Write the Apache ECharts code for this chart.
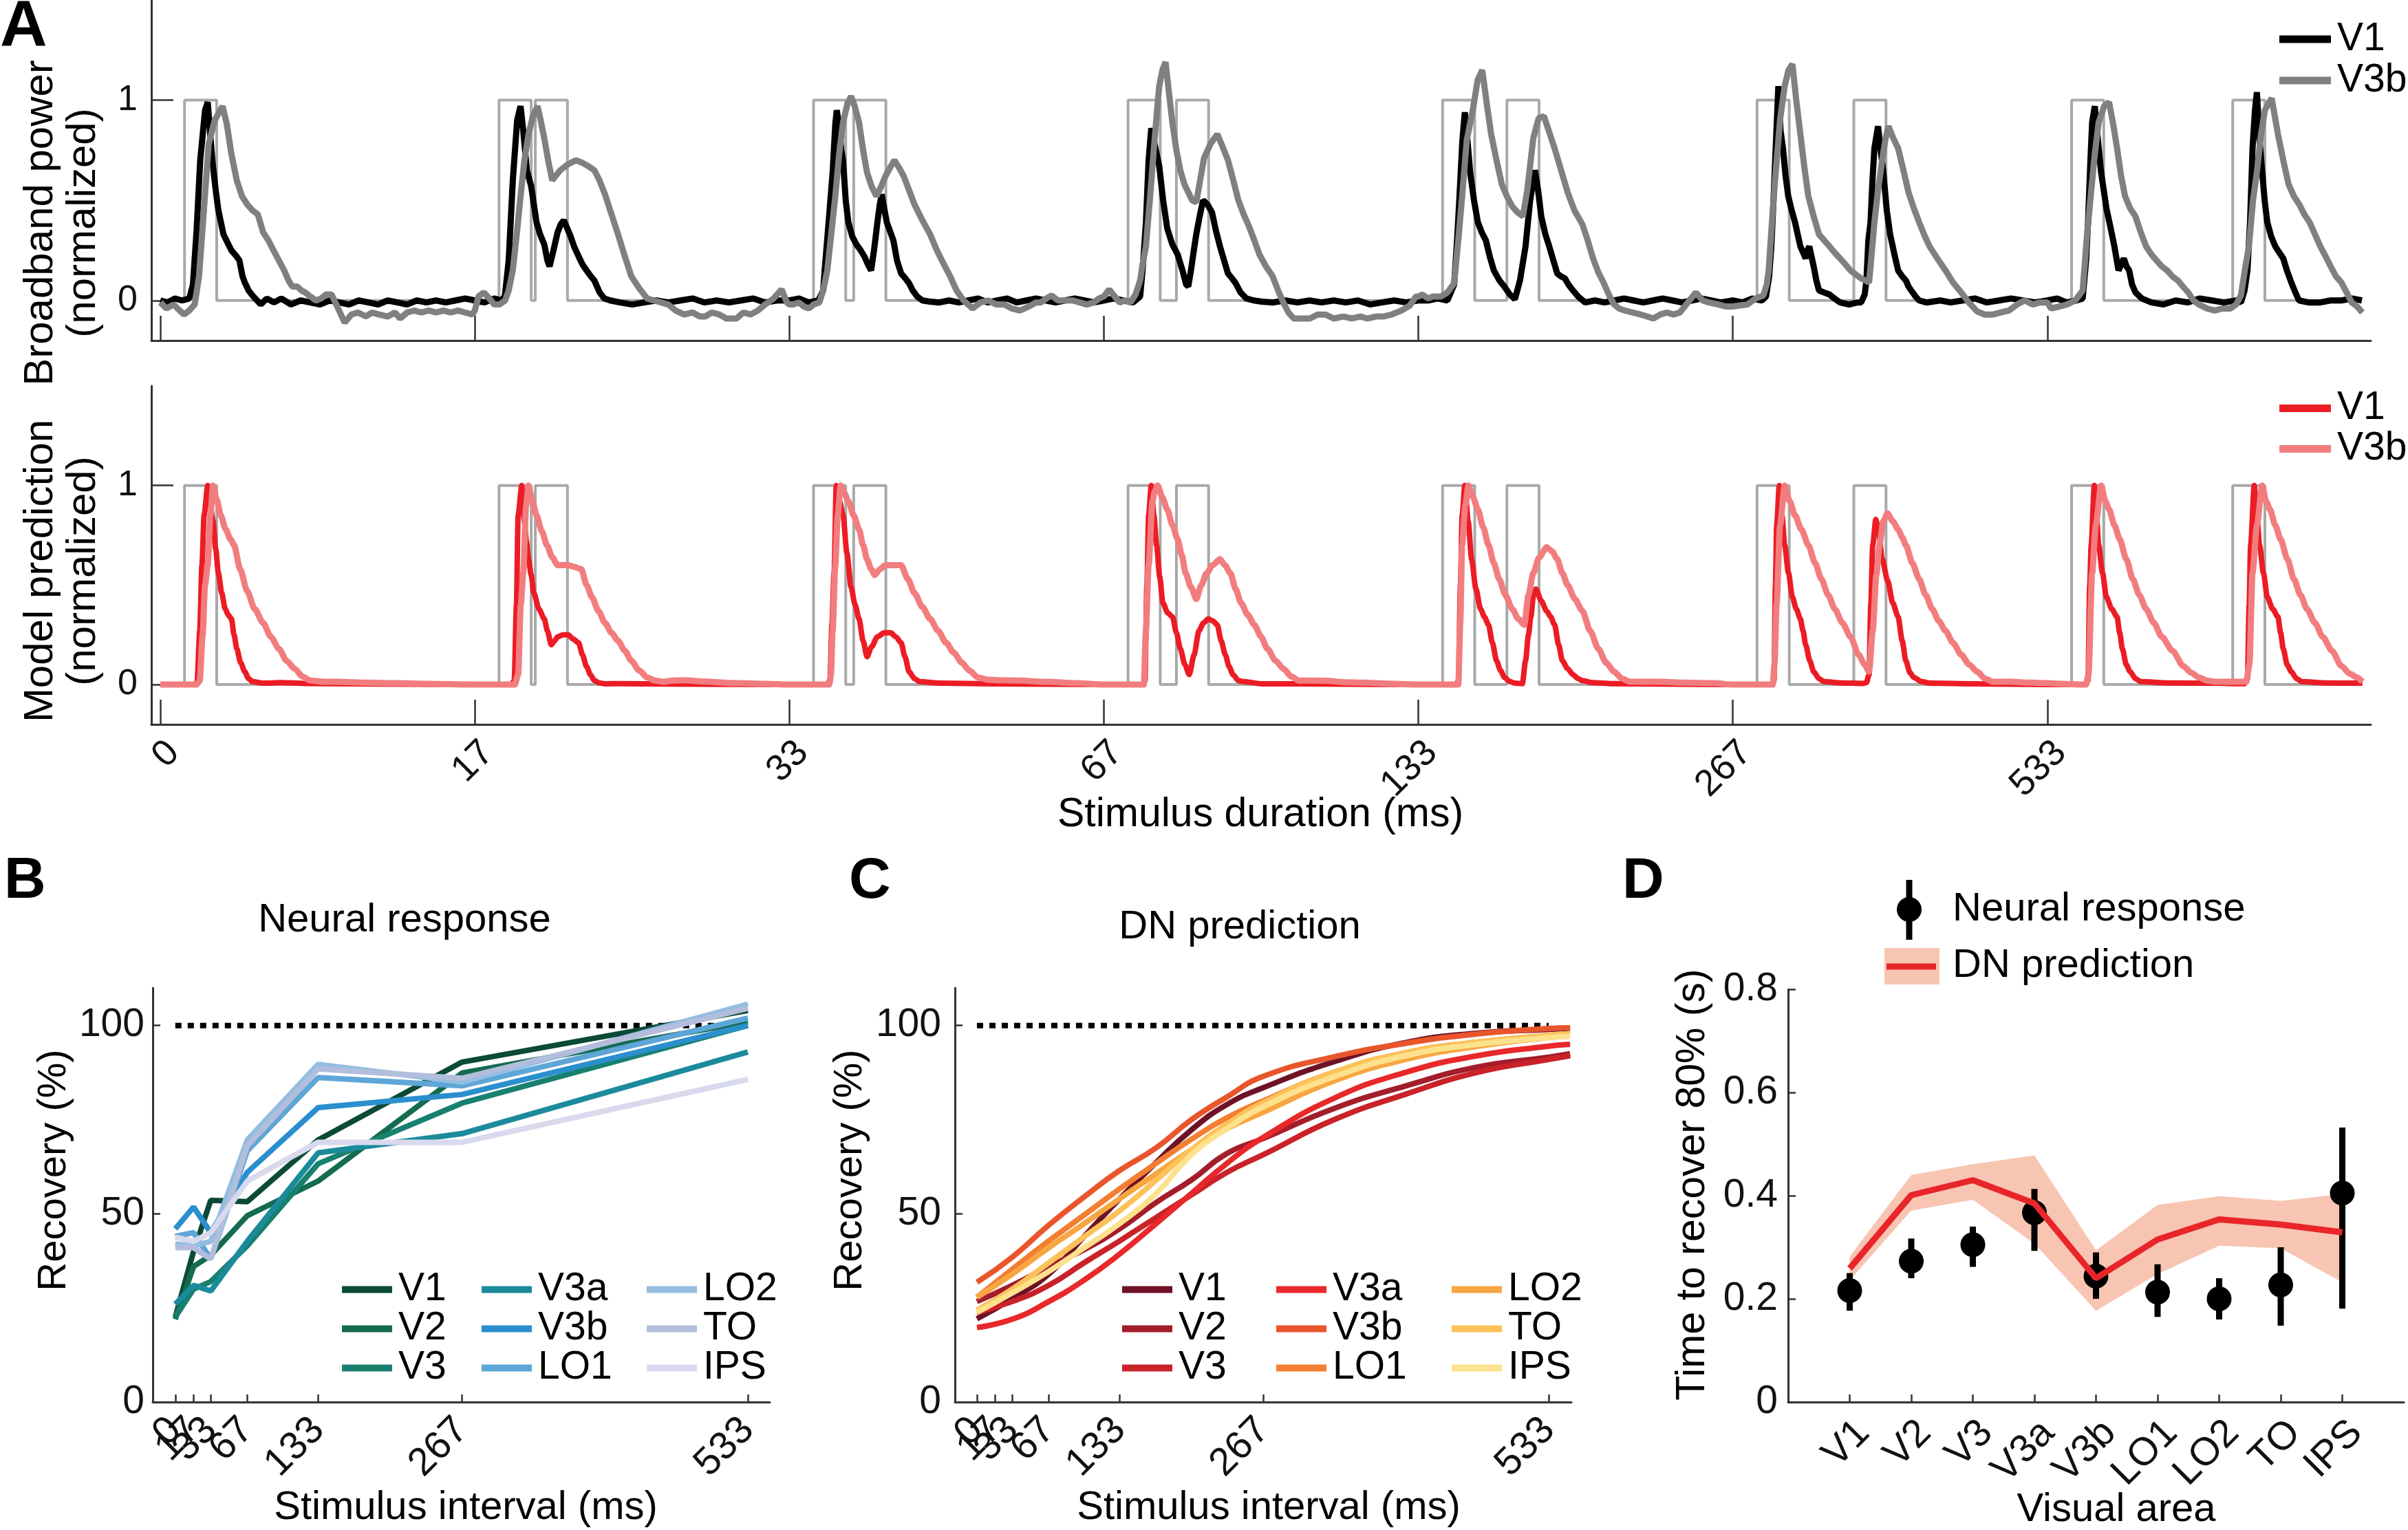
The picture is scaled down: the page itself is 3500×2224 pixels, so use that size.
<!DOCTYPE html>
<html>
<head>
<meta charset="utf-8">
<script src="https://cdn.jsdelivr.net/npm/echarts@6/dist/echarts.min.js"></script>
<style>
  html, body { margin: 0; background: #fff; }
  #chart { width: 3500px; height: 2224px; }
</style>
</head>
<body>
<div id="chart"></div>
<script>
// ---------- panel A: time courses (t in ms within each 1300 ms trial segment) ----------
const SEG_MS = 1300;
const durationLabels = ['0', '17', '33', '67', '133', '267', '533'];
const stimPulses = [
  [[100, 233]],
  [[100, 233], [250, 383]],
  [[100, 233], [266, 399]],
  [[100, 233], [300, 433]],
  [[100, 233], [366, 499]],
  [[100, 233], [500, 633]],
  [[100, 233], [766, 899]]
];

// broadband power, V1 (black)
const v1Broadband = [
  [[0,0],[30,-0.01],[60,0.01],[90,0],[120,0.01],[135,0.08],[150,0.35],[165,0.7],[185,0.95],[196,0.99],[205,0.85],[215,0.7],[229,0.55],[240,0.45],[261,0.33],[294,0.25],[315,0.22],[327,0.2],[340,0.12],[349,0.09],[365,0.05],[381,0.025],[400,0],[415,-0.02],[440,0.01],[470,-0.01],[500,0.01],[540,-0.02],[580,0],[620,-0.01],[660,-0.02],[700,0],[740,-0.01],[780,-0.02],[820,0],[860,-0.01],[900,-0.02],[940,0],[980,-0.01],[1020,-0.02],[1060,0],[1100,-0.01],[1140,0],[1180,-0.01],[1220,0],[1260,0.01]],
  [[0,0],[40,-0.01],[80,0.01],[110,0],[124,0.02],[140,0.2],[157,0.6],[175,0.9],[189,0.97],[200,0.85],[215,0.65],[233,0.57],[255,0.39],[270,0.33],[287,0.28],[300,0.2],[309,0.17],[325,0.25],[342,0.34],[355,0.38],[368,0.4],[382,0.36],[396,0.32],[410,0.27],[429,0.22],[445,0.18],[462,0.15],[480,0.12],[494,0.1],[505,0.07],[516,0.04],[535,0.01],[560,0],[600,-0.01],[650,-0.02],[700,-0.01],[750,0],[800,-0.01],[850,0],[900,0.01],[950,-0.01],[1000,0],[1050,-0.01],[1100,0],[1150,0.01],[1200,-0.01],[1250,0]],
  [[0,0],[40,0.01],[80,-0.01],[120,0],[140,0.05],[146,0.15],[163,0.4],[179,0.64],[190,0.88],[196,0.95],[205,0.88],[215,0.75],[222,0.7],[233,0.5],[244,0.39],[260,0.32],[277,0.28],[295,0.25],[310,0.22],[325,0.18],[338,0.15],[350,0.25],[364,0.39],[374,0.48],[382,0.53],[392,0.46],[403,0.39],[418,0.34],[430,0.3],[445,0.2],[462,0.135],[480,0.11],[495,0.086],[510,0.05],[528,0.02],[550,0],[582,-0.006],[620,-0.01],[660,0],[700,-0.01],[740,0],[780,0.01],[820,-0.01],[860,0],[900,0.01],[940,-0.01],[980,0],[1020,0.01],[1060,0],[1100,-0.01],[1140,0],[1180,0.01],[1220,0],[1260,-0.01]],
  [[0,0],[40,0.01],[80,0],[120,-0.01],[150,0.02],[160,0.15],[174,0.39],[185,0.7],[196,0.86],[210,0.78],[229,0.67],[245,0.5],[262,0.36],[283,0.28],[305,0.23],[325,0.15],[340,0.08],[349,0.07],[360,0.15],[372,0.25],[382,0.33],[396,0.42],[410,0.5],[428,0.48],[447,0.44],[463,0.35],[480,0.27],[497,0.2],[513,0.135],[530,0.11],[545,0.086],[565,0.04],[589,0.01],[620,0],[654,-0.006],[700,-0.01],[750,0],[800,-0.01],[850,0],[900,-0.01],[950,0],[1000,-0.01],[1050,0],[1100,-0.02],[1150,-0.01],[1200,0],[1250,-0.01]],
  [[0,0],[40,0],[80,0.01],[120,0],[148,0.08],[160,0.3],[170,0.52],[182,0.8],[192,0.94],[203,0.8],[214,0.64],[230,0.5],[246,0.39],[262,0.34],[279,0.3],[295,0.22],[312,0.15],[335,0.1],[355,0.07],[378,0.03],[399,0.006],[420,0.1],[443,0.27],[462,0.5],[482,0.65],[495,0.55],[508,0.42],[525,0.33],[541,0.27],[558,0.2],[574,0.135],[590,0.12],[606,0.11],[620,0.08],[639,0.05],[660,0.02],[690,-0.01],[730,0],[770,-0.01],[810,0],[850,0.01],[890,0],[930,-0.01],[970,0],[1010,0.01],[1050,0],[1090,-0.01],[1130,0],[1170,0.01],[1210,0],[1250,-0.01]],
  [[0,0],[40,-0.01],[80,0.01],[120,0],[137,0.02],[150,0.12],[159,0.27],[168,0.5],[177,0.76],[188,1.07],[197,0.85],[207,0.76],[218,0.62],[229,0.52],[243,0.45],[257,0.39],[268,0.33],[279,0.27],[290,0.24],[301,0.21],[308,0.25],[316,0.27],[325,0.22],[334,0.17],[345,0.1],[356,0.05],[377,0.04],[399,0.03],[420,0.01],[443,-0.01],[480,-0.02],[515,-0.01],[530,-0.01],[545,0.03],[552,0.1],[560,0.3],[569,0.39],[577,0.6],[585,0.76],[600,0.87],[611,0.75],[622,0.64],[636,0.45],[650,0.33],[666,0.24],[683,0.15],[700,0.12],[715,0.1],[726,0.07],[737,0.05],[755,0.02],[770,0],[800,-0.01],[857,0],[900,-0.01],[950,0],[1000,0.01],[1050,-0.01],[1100,0],[1150,0.01],[1200,0],[1250,-0.01]],
  [[0,0],[40,0.01],[80,-0.01],[120,0],[146,0.01],[160,0.2],[168,0.39],[178,0.7],[185,0.89],[196,0.97],[205,0.85],[222,0.64],[233,0.55],[244,0.46],[260,0.37],[277,0.27],[294,0.15],[305,0.18],[316,0.21],[327,0.17],[338,0.15],[350,0.08],[364,0.04],[390,0.01],[430,-0.01],[480,-0.02],[530,0],[580,-0.01],[630,0.01],[680,0],[730,-0.01],[780,0],[800,-0.01],[815,0.05],[827,0.15],[838,0.4],[848,0.76],[858,0.95],[866,1.04],[877,0.8],[888,0.64],[898,0.5],[909,0.39],[925,0.32],[942,0.27],[958,0.24],[975,0.21],[990,0.15],[1008,0.09],[1025,0.04],[1040,0],[1080,-0.01],[1128,-0.01],[1170,0],[1215,0],[1260,0.01],[1300,0]]
];

// broadband power, V3b (grey)
const v3bBroadband = [
  [[0,-0.01],[25,-0.04],[55,-0.02],[80,-0.05],[98,-0.07],[120,-0.05],[142,-0.02],[160,0.12],[180,0.45],[200,0.78],[225,0.9],[257,0.97],[275,0.88],[294,0.73],[316,0.6],[338,0.52],[359,0.48],[381,0.45],[403,0.43],[425,0.34],[447,0.3],[468,0.25],[490,0.2],[512,0.15],[530,0.1],[545,0.07],[566,0.07],[583,0.05],[599,0.04],[620,0.02],[643,0],[665,0.01],[685,0.03],[708,0.03],[735,-0.04],[762,-0.11],[790,-0.07],[817,-0.06],[850,-0.08],[875,-0.06],[904,-0.07],[940,-0.08],[970,-0.06],[991,-0.09],[1020,-0.06],[1050,-0.05],[1078,-0.06],[1110,-0.05],[1140,-0.06],[1170,-0.05],[1200,-0.06],[1230,-0.05],[1260,-0.06],[1290,-0.07]],
  [[0,-0.05],[15,0.02],[37,0.04],[60,0.01],[80,-0.02],[102,-0.02],[125,0],[140,0.05],[157,0.15],[175,0.35],[189,0.52],[205,0.7],[222,0.83],[240,0.92],[259,0.97],[272,0.9],[287,0.81],[303,0.7],[320,0.6],[353,0.65],[385,0.68],[418,0.7],[440,0.69],[470,0.67],[494,0.65],[515,0.6],[538,0.53],[565,0.43],[592,0.33],[620,0.22],[647,0.12],[680,0.06],[712,0.01],[740,0],[770,-0.01],[799,-0.02],[830,-0.05],[865,-0.07],[900,-0.06],[930,-0.08],[952,-0.08],[980,-0.06],[1010,-0.07],[1040,-0.09],[1082,-0.09],[1110,-0.06],[1140,-0.07],[1170,-0.05],[1200,-0.02],[1235,0.01],[1268,0.055],[1290,-0.01]],
  [[0,-0.02],[15,-0.02],[40,-0.01],[60,-0.03],[81,-0.04],[100,-0.02],[124,-0.01],[140,0.05],[157,0.15],[175,0.35],[190,0.52],[205,0.72],[222,0.89],[240,0.98],[255,1.02],[270,0.97],[288,0.89],[305,0.75],[321,0.64],[340,0.57],[360,0.52],[380,0.57],[397,0.62],[415,0.66],[434,0.7],[455,0.66],[473,0.62],[495,0.55],[517,0.48],[550,0.4],[582,0.33],[610,0.25],[637,0.185],[665,0.12],[691,0.05],[720,0],[757,-0.04],[790,-0.01],[822,0],[855,-0.02],[888,-0.02],[920,-0.04],[953,-0.05],[990,-0.03],[1020,-0.01],[1040,-0.01],[1062,0.01],[1084,0.025],[1110,0],[1140,0],[1171,0],[1200,-0.01],[1230,-0.02],[1258,-0.01],[1280,0.01]],
  [[0,0.02],[22,0.055],[45,0.02],[65,-0.01],[87,0],[110,-0.01],[131,0.03],[150,0.1],[160,0.18],[174,0.27],[190,0.5],[207,0.76],[220,0.95],[229,1.07],[242,1.15],[255,1.19],[268,1.05],[283,0.89],[300,0.75],[316,0.65],[333,0.58],[349,0.54],[365,0.5],[382,0.49],[398,0.6],[414,0.71],[440,0.78],[469,0.83],[490,0.77],[513,0.7],[535,0.6],[556,0.5],[578,0.43],[600,0.37],[622,0.3],[643,0.23],[670,0.17],[698,0.12],[720,0.05],[742,-0.01],[763,-0.06],[785,-0.09],[820,-0.09],[851,-0.09],[885,-0.07],[916,-0.07],[950,-0.09],[990,-0.08],[1025,-0.09],[1060,-0.08],[1090,-0.09],[1125,-0.08],[1156,-0.08],[1190,-0.07],[1230,-0.05],[1265,-0.025],[1290,0.02]],
  [[0,0.02],[17,0.03],[40,0.01],[60,0.02],[94,0.02],[120,0.04],[148,0.086],[165,0.3],[181,0.52],[200,0.8],[225,0.95],[245,1.1],[264,1.15],[283,0.98],[301,0.83],[323,0.7],[345,0.58],[366,0.52],[388,0.47],[410,0.44],[432,0.42],[450,0.55],[475,0.81],[497,0.91],[519,0.92],[541,0.84],[563,0.76],[590,0.65],[617,0.54],[645,0.45],[678,0.38],[700,0.3],[722,0.21],[744,0.14],[765,0.09],[787,0.03],[809,-0.02],[830,-0.04],[853,-0.05],[885,-0.06],[918,-0.07],[945,-0.08],[972,-0.09],[1000,-0.07],[1027,-0.06],[1055,-0.07],[1081,-0.06],[1114,-0.01],[1147,0.04],[1175,0],[1201,-0.01],[1240,-0.02],[1270,-0.03]],
  [[0,-0.03],[28,-0.025],[60,-0.02],[94,0.01],[126,0.025],[140,0.08],[148,0.15],[162,0.4],[177,0.64],[195,0.9],[214,1.07],[230,1.15],[246,1.18],[262,1],[279,0.83],[295,0.67],[312,0.52],[334,0.42],[356,0.33],[378,0.3],[399,0.27],[420,0.24],[443,0.21],[465,0.18],[486,0.15],[508,0.13],[530,0.11],[548,0.1],[563,0.09],[575,0.25],[585,0.39],[600,0.55],[617,0.7],[630,0.8],[643,0.87],[663,0.81],[683,0.76],[705,0.65],[726,0.54],[748,0.46],[770,0.39],[790,0.33],[813,0.27],[845,0.21],[879,0.15],[910,0.09],[944,0.04],[975,-0.01],[1010,-0.055],[1040,-0.07],[1075,-0.07],[1108,-0.06],[1141,-0.05],[1175,-0.02],[1206,0],[1240,-0.02],[1270,-0.01]],
  [[0,-0.01],[15,-0.04],[50,-0.03],[81,-0.02],[115,0],[146,0.05],[162,0.3],[179,0.52],[195,0.72],[212,0.89],[235,0.97],[255,0.99],[272,0.88],[288,0.76],[305,0.62],[321,0.52],[342,0.46],[364,0.42],[386,0.34],[408,0.27],[430,0.23],[451,0.2],[473,0.17],[495,0.15],[517,0.12],[539,0.1],[560,0.07],[582,0.04],[604,0],[626,-0.02],[660,-0.04],[691,-0.05],[725,-0.04],[757,-0.04],[780,-0.02],[800,0.025],[816,0.15],[833,0.27],[850,0.5],[866,0.64],[882,0.82],[899,0.95],[927,1.01],[940,0.92],[953,0.83],[975,0.7],[997,0.58],[1019,0.52],[1041,0.48],[1062,0.43],[1084,0.39],[1106,0.33],[1128,0.27],[1150,0.22],[1171,0.17],[1193,0.12],[1215,0.09],[1237,0.04],[1258,-0.01],[1280,-0.03],[1302,-0.06]]
];

// model prediction, V1 (red)
const v1Model = [
  [[0,0],[140,0],[152,0.01],[163,0.27],[172,0.6],[181,0.85],[196,1],[207,0.9],[218,0.82],[229,0.68],[240,0.56],[254,0.46],[268,0.38],[281,0.35],[294,0.33],[305,0.25],[316,0.18],[332,0.11],[349,0.065],[365,0.03],[381,0.015],[425,0.007],[500,0.01],[600,0.006],[800,0.004],[1000,0.002],[1300,0]],
  [[0,0],[150,0],[163,0.02],[172,0.4],[179,0.85],[194,1],[205,0.82],[213,0.72],[222,0.63],[233,0.55],[244,0.46],[265,0.38],[287,0.33],[300,0.27],[316,0.2],[330,0.22],[342,0.24],[365,0.25],[386,0.25],[405,0.23],[429,0.21],[445,0.15],[462,0.09],[478,0.05],[494,0.02],[516,0.008],[538,0.004],[600,0.005],[800,0.003],[1300,0]],
  [[0,0],[155,0],[168,0.02],[176,0.3],[185,0.56],[194,1],[208,0.92],[222,0.85],[238,0.66],[255,0.49],[272,0.4],[288,0.33],[305,0.22],[321,0.14],[340,0.19],[364,0.24],[392,0.26],[419,0.26],[440,0.24],[462,0.21],[478,0.14],[495,0.065],[517,0.03],[539,0.015],[626,0.007],[844,0.004],[1300,0]],
  [[0,0],[160,0],[170,0.02],[178,0.5],[185,0.85],[196,1],[207,0.85],[218,0.7],[231,0.54],[244,0.41],[264,0.36],[284,0.34],[300,0.26],[316,0.18],[335,0.1],[353,0.05],[373,0.15],[393,0.27],[412,0.31],[432,0.33],[450,0.32],[469,0.3],[485,0.22],[502,0.15],[518,0.09],[534,0.05],[556,0.02],[578,0.015],[654,0.004],[900,0.003],[1300,0]],
  [[0,0],[155,0],[166,0.02],[174,0.5],[181,0.85],[192,1],[206,0.82],[220,0.63],[238,0.48],[257,0.38],[273,0.34],[290,0.3],[306,0.21],[323,0.12],[340,0.07],[356,0.036],[378,0.015],[399,0.007],[430,0.005],[443,0.12],[455,0.25],[465,0.34],[476,0.45],[486,0.48],[508,0.42],[530,0.37],[547,0.34],[563,0.3],[580,0.2],[595,0.12],[617,0.08],[639,0.05],[660,0.03],[678,0.02],[720,0.01],[800,0.005],[1000,0.003],[1300,0]],
  [[0,0],[160,0],[170,0.02],[176,0.5],[181,0.8],[192,1],[203,0.85],[214,0.7],[230,0.56],[246,0.44],[262,0.38],[279,0.33],[290,0.27],[301,0.2],[318,0.12],[334,0.065],[356,0.03],[377,0.015],[450,0.008],[540,0.006],[552,0.01],[563,0.05],[570,0.4],[578,0.7],[591,0.83],[604,0.75],[617,0.63],[640,0.52],[661,0.41],[683,0.34],[700,0.22],[715,0.12],[732,0.06],[748,0.036],[780,0.015],[814,0.007],[1000,0.004],[1300,0]],
  [[0,0],[155,0],[168,0.02],[175,0.5],[181,0.7],[194,1],[203,0.85],[212,0.7],[228,0.56],[244,0.44],[266,0.38],[288,0.34],[299,0.26],[310,0.18],[326,0.1],[342,0.065],[364,0.03],[386,0.015],[500,0.008],[691,0.007],[815,0.005],[827,0.03],[834,0.4],[840,0.7],[855,1],[866,0.85],[877,0.7],[893,0.56],[909,0.44],[931,0.38],[953,0.34],[964,0.26],[975,0.18],[991,0.1],[1008,0.065],[1030,0.03],[1051,0.015],[1150,0.008],[1302,0.007]]
];

// model prediction, V3b (pink)
const v3bModel = [
  [[0,0],[150,0],[163,0.02],[175,0.25],[185,0.5],[196,0.6],[207,0.85],[218,1],[233,0.93],[250,0.85],[270,0.78],[290,0.73],[305,0.7],[330,0.58],[359,0.47],[390,0.38],[425,0.31],[457,0.24],[490,0.18],[522,0.12],[555,0.08],[588,0.04],[621,0.02],[680,0.014],[730,0.014],[850,0.01],[969,0.007],[1100,0.004],[1300,0]],
  [[0,0],[165,0],[179,0.05],[190,0.4],[200,0.56],[212,0.9],[222,1],[238,0.92],[255,0.85],[277,0.77],[298,0.7],[320,0.64],[342,0.6],[364,0.6],[386,0.6],[413,0.59],[440,0.58],[462,0.5],[484,0.44],[511,0.37],[538,0.31],[565,0.26],[592,0.22],[620,0.17],[647,0.12],[680,0.07],[712,0.036],[745,0.02],[778,0.014],[820,0.02],[865,0.022],[950,0.015],[1082,0.007],[1200,0.004],[1300,0]],
  [[0,0],[165,0],[172,0.05],[179,0.27],[190,0.6],[200,0.85],[212,1],[228,0.96],[244,0.92],[266,0.85],[288,0.78],[305,0.7],[321,0.63],[338,0.58],[353,0.55],[375,0.58],[397,0.6],[430,0.6],[462,0.6],[490,0.53],[517,0.46],[550,0.39],[582,0.33],[615,0.27],[648,0.21],[680,0.16],[713,0.11],[745,0.07],[779,0.036],[820,0.025],[866,0.022],[950,0.02],[1062,0.014],[1180,0.007],[1300,0]],
  [[0,0],[165,0],[174,0.27],[185,0.6],[201,0.92],[210,0.97],[222,1],[242,0.94],[262,0.88],[284,0.8],[305,0.73],[322,0.65],[338,0.56],[360,0.49],[382,0.43],[403,0.5],[425,0.56],[450,0.6],[480,0.63],[500,0.6],[523,0.56],[545,0.48],[567,0.41],[595,0.35],[622,0.3],[650,0.24],[676,0.18],[710,0.12],[742,0.08],[775,0.04],[807,0.02],[860,0.02],[916,0.019],[1000,0.012],[1069,0.01],[1180,0.005],[1300,0]],
  [[0,0],[165,0],[173,0.3],[181,0.7],[194,0.9],[207,1],[226,0.94],[246,0.88],[268,0.79],[290,0.7],[312,0.61],[334,0.53],[360,0.45],[388,0.38],[413,0.33],[438,0.3],[455,0.45],[475,0.56],[500,0.64],[530,0.69],[552,0.67],[574,0.63],[595,0.56],[617,0.5],[647,0.43],[678,0.37],[710,0.27],[744,0.18],[776,0.11],[809,0.065],[842,0.03],[875,0.014],[940,0.014],[1004,0.014],[1100,0.01],[1223,0.007],[1300,0]],
  [[0,0],[165,0],[172,0.1],[181,0.41],[195,0.8],[214,1],[235,0.92],[257,0.85],[283,0.78],[312,0.7],[340,0.61],[366,0.53],[394,0.45],[421,0.38],[453,0.31],[486,0.24],[520,0.15],[545,0.1],[563,0.065],[578,0.27],[593,0.55],[606,0.7],[622,0.82],[639,0.86],[661,0.82],[683,0.78],[700,0.74],[715,0.7],[742,0.61],[770,0.53],[797,0.45],[824,0.38],[851,0.32],[879,0.27],[910,0.21],[944,0.15],[977,0.1],[1010,0.065],[1042,0.03],[1075,0.014],[1150,0.014],[1228,0.01],[1300,0.007]],
  [[0,0.005],[160,0],[170,0.05],[185,0.56],[200,0.8],[222,1],[240,0.92],[255,0.88],[277,0.8],[299,0.73],[326,0.63],[353,0.53],[380,0.45],[408,0.38],[440,0.31],[473,0.24],[517,0.17],[561,0.094],[594,0.06],[626,0.036],[660,0.02],[691,0.014],[760,0.014],[822,0.014],[835,0.1],[848,0.56],[866,0.8],[888,1],[904,0.92],[920,0.88],[942,0.8],[964,0.73],[992,0.63],[1019,0.53],[1046,0.45],[1073,0.38],[1106,0.31],[1138,0.24],[1176,0.17],[1215,0.094],[1250,0.055],[1280,0.036],[1302,0.014]]
];

// ---------- panels B, C: recovery (%) ----------
const areaNames = ['V1', 'V2', 'V3', 'V3a', 'V3b', 'LO1', 'LO2', 'TO', 'IPS'];
const intervals = [0, 17, 33, 67, 133, 267, 533];

const neuralV1 = [22.6, 40, 53.6, 53.2, 69.6, 90.3, 104];
const neuralV2 = [22, 36, 39, 49.5, 58.7, 87.4, 101];
const neuralV3 = [22.6, 30, 32, 41.5, 63.3, 79.4, 100];
const neuralV3a = [26, 31, 29.5, 42.7, 66.2, 71.3, 93];
const neuralV3b = [46, 51.8, 45, 61, 78.2, 81.7, 100];
const neuralLO1 = [44, 45, 38, 66.7, 86.2, 84, 102];
const neuralLO2 = [42, 41.5, 42.7, 69.6, 89.7, 85, 105.7];
const neuralTO = [41, 41, 38, 68, 88.5, 86, 104.6];
const neuralIPS = [43.8, 42.7, 45, 58.7, 69, 69, 85.7];

const dnInterval = [0, 33, 67, 100, 133, 167, 200, 233, 267, 333, 400, 467, 533, 553];
const dnV1 = [22.1, 27.5, 34, 44, 54, 63.6, 72.3, 79, 83.5, 90.4, 95.5, 98, 99, 99.3];
const dnV2 = [26.7, 31, 36, 40.5, 46, 53, 59, 66, 70, 78, 84, 89, 91.6, 92.5];
const dnV3 = [23.8, 26.7, 31, 37, 42.8, 49, 55, 61, 65.7, 75, 81.8, 87.6, 91, 92];
const dnV3a = [19.8, 22, 26.7, 32.4, 39.3, 47.4, 55.4, 63.4, 70.3, 80.7, 87.6, 92, 94.5, 95];
const dnV3b = [31.8, 38.5, 47, 54.5, 61.5, 67.5, 75, 81, 86.5, 91.7, 95.3, 97.8, 99.2, 99.4];
const dnLO1 = [27.8, 35.3, 42.8, 49.7, 56.6, 63.4, 69.8, 75.5, 80, 87.6, 92.8, 95.6, 97.4, 97.8];
const dnLO2 = [27.8, 34, 41, 47.4, 54, 60.6, 67, 72.6, 77, 85.3, 91, 94.5, 96.8, 97.2];
const dnTO = [24.4, 30, 37, 43.9, 50.8, 58.9, 67, 73.8, 79.5, 87.6, 92.8, 95.6, 97.4, 97.8];
const dnIPS = [23.8, 29, 34.7, 41, 47.4, 55.4, 65.7, 72.6, 78.4, 86.4, 92, 95, 96.8, 97.2];

const fullRecovery = 100;

// ---------- panel D: time to recover 80% (s) ----------
const neuralT80 = [0.216, 0.273, 0.305, 0.367, 0.244, 0.213, 0.2, 0.227, 0.405];
const neuralT80Lo = [0.177, 0.24, 0.262, 0.293, 0.2, 0.165, 0.16, 0.148, 0.181];
const neuralT80Hi = [0.25, 0.317, 0.34, 0.413, 0.29, 0.267, 0.24, 0.3, 0.532];
const dnT80 = [0.259, 0.401, 0.43, 0.385, 0.24, 0.315, 0.354, 0.344, 0.329];
const dnT80Lo = [0.236, 0.371, 0.392, 0.307, 0.177, 0.248, 0.303, 0.298, 0.232];
const dnT80Hi = [0.282, 0.44, 0.461, 0.478, 0.294, 0.382, 0.399, 0.39, 0.403];

// ---------- styling ----------
const FONT = "'Liberation Sans', Arial, Helvetica, sans-serif";
const AX = '#333333';
const greens = ['#0b4a37', '#146b51', '#18806f', '#1b8b9c', '#2b8fcd', '#5ea6d7', '#94bde1', '#b3bddc', '#d9d9ee'];
const reds = ['#6e1326', '#a31d2b', '#c92229', '#e8282a', '#e9562c', '#f27f31', '#f8a641', '#fdc25b', '#fde28d'];

const joinSegments = segs => {
  const out = [];
  segs.forEach((pts, k) => pts.forEach(p => out.push([k * SEG_MS + p[0], p[1]])));
  return out;
};

const stimWave = () => {
  const pts = [];
  stimPulses.forEach((pulses, k) => {
    const o = k * SEG_MS;
    pts.push([o, 0]);
    pulses.forEach(([a, b]) => pts.push([o + a, 0], [o + a, 1], [o + b, 1], [o + b, 0]));
  });
  pts.push([stimPulses.length * SEG_MS, 0]);
  return pts;
};

const valueAxis = o => {
  const label = {
    show: o.showLabels !== false,
    customValues: o.labels || o.ticks,
    fontSize: o.fontSize || 57,
    fontFamily: FONT,
    color: '#111',
    rotate: o.rotate || 0,
    margin: o.margin == null ? 12 : o.margin,
    showMinLabel: true,
    showMaxLabel: true,
    hideOverlap: false
  };
  if (o.fmt) label.formatter = o.fmt;
  if (o.align) label.align = o.align;
  if (o.vAlign) label.verticalAlign = o.vAlign;
  return {
    type: 'value',
    gridIndex: o.grid,
    min: o.min,
    max: o.max,
    axisLine: {show: true, onZero: false, lineStyle: {color: AX, width: 3}},
    axisTick: {show: true, inside: true, length: o.tickLen || 11, customValues: o.ticks, lineStyle: {color: AX, width: 2.5}},
    axisLabel: label,
    splitLine: {show: false},
    axisPointer: {show: false}
  };
};

const lineSeries = (name, grid, data, color, width, extra) => Object.assign({
  name: name,
  type: 'line',
  xAxisIndex: grid,
  yAxisIndex: grid,
  data: data,
  showSymbol: false,
  symbol: 'none',
  lineStyle: {color: color, width: width},
  itemStyle: {color: color},
  emphasis: {disabled: true},
  animation: false
}, extra || {});

const legendCol = (names, left, top, rowH, iconW, iconH) => ({
  show: true,
  orient: 'vertical',
  left: left,
  top: top,
  padding: 0,
  itemGap: 0,
  itemWidth: iconW,
  itemHeight: iconH,
  icon: 'rect',
  selectedMode: false,
  data: names,
  formatter: n => n.split(':')[1],
  textStyle: {fontSize: 57, fontFamily: FONT, color: '#000', lineHeight: rowH, padding: [0, 0, 0, 4]}
});

// ---------- series ----------
const series = [];
const segTicks = durationLabels.map((_, k) => k * SEG_MS);

series.push(lineSeries('stimA1', 0, stimWave(), '#a9a9a9', 4));
series.push(lineSeries('A1:V1', 0, joinSegments(v1Broadband), '#000000', 9));
series.push(lineSeries('A1:V3b', 0, joinSegments(v3bBroadband), '#808080', 9));

series.push(lineSeries('stimA2', 1, stimWave(), '#a9a9a9', 4));
series.push(lineSeries('A2:V1', 1, joinSegments(v1Model), '#ec1c24', 8, {smooth: 0.25, smoothMonotone: 'x'}));
series.push(lineSeries('A2:V3b', 1, joinSegments(v3bModel), '#f27d7f', 9, {smooth: 0.25, smoothMonotone: 'x'}));

const neuralAll = [neuralV1, neuralV2, neuralV3, neuralV3a, neuralV3b, neuralLO1, neuralLO2, neuralTO, neuralIPS];
const dnAll = [dnV1, dnV2, dnV3, dnV3a, dnV3b, dnLO1, dnLO2, dnTO, dnIPS];
const refLine = [[intervals[0], fullRecovery], [intervals[intervals.length - 1], fullRecovery]];

series.push(lineSeries('refB', 2, refLine, '#000', 8, {lineStyle: {color: '#000', width: 8, type: [9, 9]}}));
areaNames.forEach((n, i) => {
  series.push(lineSeries('B:' + n, 2, intervals.map((x, j) => [x, neuralAll[i][j]]), greens[i], 8));
});

series.push(lineSeries('refC', 3, refLine, '#000', 8, {lineStyle: {color: '#000', width: 8, type: [9, 9]}}));
areaNames.forEach((n, i) => {
  series.push(lineSeries('C:' + n, 3, dnInterval.map((x, j) => [x, dnAll[i][j]]), reds[i], 8, {smooth: 0.5}));
});

// panel D
const areaIdx = areaNames.map((_, i) => i + 1);
series.push({
  type: 'custom',
  name: 'bandD',
  xAxisIndex: 4,
  yAxisIndex: 4,
  silent: true,
  animation: false,
  data: areaIdx.map((x, i) => [x, dnT80Lo[i], dnT80Hi[i]]),
  encode: {x: 0, y: [1, 2]},
  renderItem: (params, api) => {
    if (params.dataIndexInside !== 0) return null;
    const n = params.dataInsideLength;
    const up = [], dn = [];
    for (let i = 0; i < n; i++) {
      up.push(api.coord([api.value(0, i), api.value(2, i)]));
      dn.push(api.coord([api.value(0, i), api.value(1, i)]));
    }
    return {type: 'polygon', shape: {points: up.concat(dn.reverse())}, style: {fill: '#f8c5b2'}};
  }
});
series.push(lineSeries('D:DN prediction', 4, areaIdx.map((x, i) => [x, dnT80[i]]), '#e8262a', 9));
series.push({
  type: 'custom',
  name: 'errD',
  xAxisIndex: 4,
  yAxisIndex: 4,
  silent: true,
  animation: false,
  data: areaIdx.map((x, i) => [x, neuralT80Lo[i], neuralT80Hi[i]]),
  encode: {x: 0, y: [1, 2]},
  renderItem: (params, api) => {
    const x = api.value(0);
    const p1 = api.coord([x, api.value(1)]);
    const p2 = api.coord([x, api.value(2)]);
    return {type: 'line', shape: {x1: p1[0], y1: p1[1], x2: p2[0], y2: p2[1]}, style: {stroke: '#000', lineWidth: 9}};
  }
});
series.push({
  type: 'scatter',
  name: 'D:Neural response',
  xAxisIndex: 4,
  yAxisIndex: 4,
  data: areaIdx.map((x, i) => [x, neuralT80[i]]),
  symbol: 'circle',
  symbolSize: 36,
  itemStyle: {color: '#000', opacity: 1},
  emphasis: {disabled: true},
  animation: false
});

// ---------- texts ----------
const txt = (text, x, y, size, extra) => ({
  type: 'text',
  x: x,
  y: y,
  rotation: (extra && extra.rot) || 0,
  silent: true,
  style: {
    text: text,
    fontSize: size,
    fontFamily: FONT,
    fontWeight: (extra && extra.bold) ? 'bold' : 'normal',
    fill: '#000',
    align: (extra && extra.align) || 'center',
    verticalAlign: 'middle'
  }
});
const R90 = {rot: Math.PI / 2};

const graphic = [
  txt('A', 0, 41, 95, {bold: true, align: 'left'}),
  txt('B', 6, 1282, 84, {bold: true, align: 'left'}),
  txt('C', 1234, 1282, 84, {bold: true, align: 'left'}),
  txt('D', 2358, 1282, 84, {bold: true, align: 'left'}),

  txt('Broadband power', 59, 324, 60, R90),
  txt('(normalized)', 121, 324, 60, R90),
  txt('Model prediction', 59, 830, 60, R90),
  txt('(normalized)', 121, 830, 60, R90),
  txt('Stimulus duration (ms)', 1832, 1185, 59),

  txt('Neural response', 588, 1338, 58),
  txt('DN prediction', 1802, 1348, 58),
  txt('Recovery (%)', 79, 1701, 58, R90),
  txt('Recovery (%)', 1236, 1701, 58, R90),
  txt('Stimulus interval (ms)', 677, 2192, 58),
  txt('Stimulus interval (ms)', 1844, 2192, 58),
  txt('Time to recover 80% (s)', 2461, 1722, 59, R90),
  txt('Visual area', 3076, 2195, 58),

  // panel D legend
  {type: 'line', silent: true, shape: {x1: 2775, y1: 1279, x2: 2775, y2: 1366}, style: {stroke: '#000', lineWidth: 9}},
  {type: 'circle', silent: true, shape: {cx: 2775, cy: 1322, r: 18}, style: {fill: '#000'}},
  {type: 'rect', silent: true, shape: {x: 2739, y: 1378, width: 80, height: 53}, style: {fill: '#f8c5b2'}},
  {type: 'line', silent: true, shape: {x1: 2742, y1: 1405, x2: 2814, y2: 1405}, style: {stroke: '#e8262a', lineWidth: 9}},
  txt('Neural response', 2838, 1322, 58, {align: 'left'}),
  txt('DN prediction', 2838, 1404, 58, {align: 'left'})
];

// labels for B and C: a blank entry at the axis start keeps every interval label visible
const intervalLabelsB = [-21].concat(intervals);
const intervalLabelsC = [-20.5].concat(intervals);
const intervalFmt = v => (v < 0 ? '' : String(v));

// ---------- chart ----------
const chart = echarts.init(document.getElementById('chart'), null, {renderer: 'canvas'});
chart.setOption({
  backgroundColor: '#ffffff',
  animation: false,
  textStyle: {fontFamily: FONT},
  grid: [
    {left: 220, top: 0, width: 3226, height: 495, outerBoundsMode: 'none'},
    {left: 220, top: 561, width: 3226, height: 492, outerBoundsMode: 'none'},
    {left: 222, top: 1436, width: 897, height: 602, outerBoundsMode: 'none'},
    {left: 1388, top: 1436, width: 896, height: 602, outerBoundsMode: 'none'},
    {left: 2599, top: 1438, width: 895, height: 600, outerBoundsMode: 'none'}
  ],
  xAxis: [
    valueAxis({grid: 0, min: -37, max: 9137, ticks: segTicks, tickLen: 36, showLabels: false}),
    valueAxis({grid: 1, min: -37, max: 9137, ticks: segTicks, tickLen: 36, fontSize: 54, rotate: 45, margin: 14,
      align: 'right', vAlign: 'top', fmt: v => durationLabels[Math.round(v / SEG_MS)]}),
    valueAxis({grid: 2, min: -21, max: 553.5, ticks: intervals, labels: intervalLabelsB, rotate: 45, margin: 32, fmt: intervalFmt}),
    valueAxis({grid: 3, min: -20.5, max: 554.2, ticks: intervals, labels: intervalLabelsC, rotate: 45, margin: 32, fmt: intervalFmt}),
    valueAxis({grid: 4, min: 0, max: 10, ticks: areaIdx, rotate: 45, margin: 16, align: 'right', vAlign: 'top',
      fmt: v => areaNames[Math.round(v) - 1]})
  ],
  yAxis: [
    valueAxis({grid: 0, min: -0.2, max: 1.5, ticks: [0, 1], tickLen: 32, fontSize: 52, margin: 20, fmt: v => String(v)}),
    valueAxis({grid: 1, min: -0.2, max: 1.5, ticks: [0, 1], tickLen: 32, fontSize: 52, margin: 20, fmt: v => String(v)}),
    valueAxis({grid: 2, min: 0, max: 110, ticks: [0, 50, 100], margin: 12, fmt: v => String(v)}),
    valueAxis({grid: 3, min: 0, max: 110, ticks: [0, 50, 100], margin: 20, fmt: v => String(v)}),
    valueAxis({grid: 4, min: 0, max: 0.8, ticks: [0, 0.2, 0.4, 0.6, 0.8], margin: 15,
      fmt: v => (Math.abs(v) < 1e-9 ? '0' : v.toFixed(1))})
  ],
  legend: [
    legendCol(['A1:V1', 'A1:V3b'], 3313, 27, 60, 75, 11),
    legendCol([{name: 'A2:V1', itemStyle: {color: '#ec1c24'}}, {name: 'A2:V3b', itemStyle: {color: '#f27d7f'}}], 3313, 564, 59, 75, 11),
    legendCol(['B:V1', 'B:V2', 'B:V3'], 497, 1846, 56.5, 73, 10),
    legendCol(['B:V3a', 'B:V3b', 'B:LO1'], 700, 1846, 56.5, 73, 10),
    legendCol(['B:LO2', 'B:TO', 'B:IPS'], 940, 1846, 56.5, 73, 10),
    legendCol(['C:V1', 'C:V2', 'C:V3'], 1631, 1846, 56.5, 73, 10),
    legendCol(['C:V3a', 'C:V3b', 'C:LO1'], 1855, 1846, 56.5, 73, 10),
    legendCol(['C:LO2', 'C:TO', 'C:IPS'], 2110, 1846, 56.5, 73, 10)
  ],
  graphic: graphic,
  series: series
});
</script>
</body>
</html>
